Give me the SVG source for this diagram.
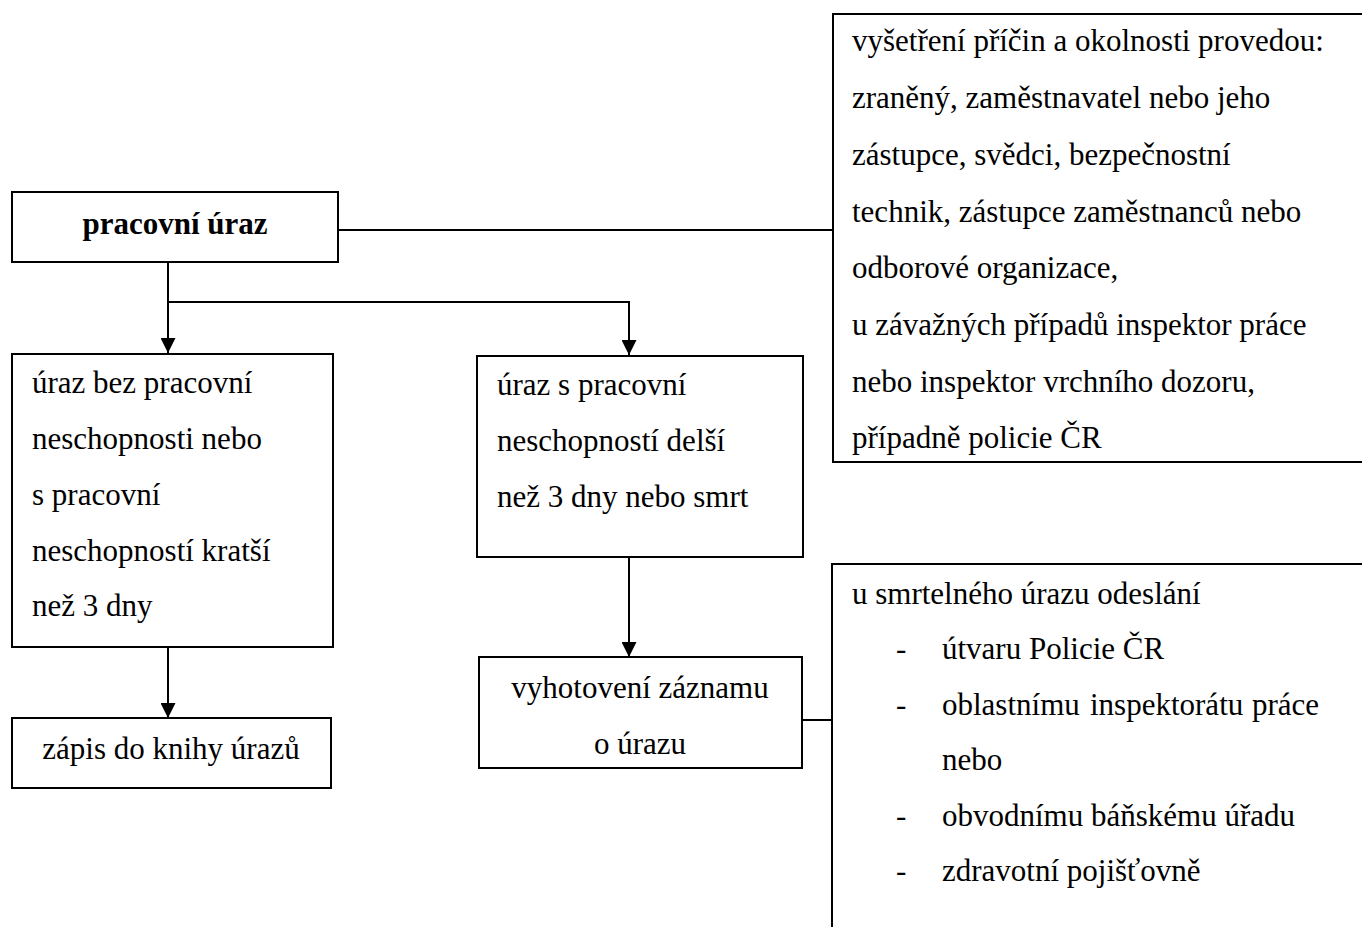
<svg xmlns="http://www.w3.org/2000/svg" width="1362" height="927" viewBox="0 0 1362 927">
<style>
.box{fill:#fff;stroke:#000;stroke-width:2}
.t{font-family:"Liberation Serif","Times New Roman",serif;font-size:31px;fill:#000}
.b{font-weight:bold}
.c{text-anchor:middle}
.ln{fill:none;stroke:#000;stroke-width:2}
</style>
<defs>
<marker id="ah" viewBox="0 0 15 15" refX="15" refY="7.5" markerWidth="15" markerHeight="15" markerUnits="userSpaceOnUse" orient="auto">
<path d="M0,0 L15,7.5 L0,15 Z" fill="#000"/>
</marker>
</defs>
<rect width="1362" height="927" fill="#fff"/>
<g id="connectors">
<line class="ln" x1="338" y1="230" x2="833" y2="230"/>
<line class="ln" x1="168" y1="262" x2="168" y2="353" marker-end="url(#ah)"/>
<polyline class="ln" points="168,302 629,302 629,355" marker-end="url(#ah)"/>
<line class="ln" x1="168" y1="647" x2="168" y2="718" marker-end="url(#ah)"/>
<line class="ln" x1="629" y1="557" x2="629" y2="657" marker-end="url(#ah)"/>
<line class="ln" x1="802" y1="720" x2="832" y2="720"/>
</g>
<g id="n-pracovni-uraz">
<rect class="box" x="12" y="192" width="326" height="70"/>
<text class="t b c" x="175" y="234">pracovní úraz</text>
</g>
<g id="n-vysetreni">
<rect class="box" x="833" y="14" width="560" height="448"/>
<text class="t" x="852" y="51">vyšetření příčin a okolnosti provedou:</text>
<text class="t" x="852" y="108">zraněný, zaměstnavatel nebo jeho</text>
<text class="t" x="852" y="165">zástupce, svědci, bezpečnostní</text>
<text class="t" x="852" y="222">technik, zástupce zaměstnanců nebo</text>
<text class="t" x="852" y="278">odborové organizace,</text>
<text class="t" x="852" y="335">u závažných případů inspektor práce</text>
<text class="t" x="852" y="392">nebo inspektor vrchního dozoru,</text>
<text class="t" x="852" y="448">případně policie ČR</text>
</g>
<g id="n-bez-neschopnosti">
<rect class="box" x="12" y="354" width="321" height="293"/>
<text class="t" x="32" y="393">úraz bez pracovní</text>
<text class="t" x="32" y="449">neschopnosti nebo</text>
<text class="t" x="32" y="505">s pracovní</text>
<text class="t" x="32" y="561">neschopností kratší</text>
<text class="t" x="32" y="616">než 3 dny</text>
</g>
<g id="n-s-neschopnosti">
<rect class="box" x="477" y="356" width="326" height="201"/>
<text class="t" x="497" y="395">úraz s pracovní</text>
<text class="t" x="497" y="451">neschopností delší</text>
<text class="t" x="497" y="507">než 3 dny nebo smrt</text>
</g>
<g id="n-zapis">
<rect class="box" x="12" y="718" width="319" height="70"/>
<text class="t c" x="171" y="759">zápis do knihy úrazů</text>
</g>
<g id="n-vyhotoveni">
<rect class="box" x="479" y="657" width="323" height="111"/>
<text class="t c" x="640" y="698">vyhotovení záznamu</text>
<text class="t c" x="640" y="754">o úrazu</text>
</g>
<g id="n-odeslani">
<rect class="box" x="832" y="564" width="560" height="400"/>
<text class="t" x="852" y="604">u smrtelného úrazu odeslání</text>
<text class="t" x="896" y="659">-</text>
<text class="t" x="942" y="659">útvaru Policie ČR</text>
<text class="t" x="896" y="715">-</text>
<text class="t" y="715"><tspan x="942">oblastnímu</tspan><tspan x="1090">inspektorátu</tspan><tspan x="1252">práce</tspan></text>
<text class="t" x="942" y="770">nebo</text>
<text class="t" x="896" y="826">-</text>
<text class="t" x="942" y="826">obvodnímu báňskému úřadu</text>
<text class="t" x="896" y="881">-</text>
<text class="t" x="942" y="881">zdravotní pojišťovně</text>
</g>
</svg>
